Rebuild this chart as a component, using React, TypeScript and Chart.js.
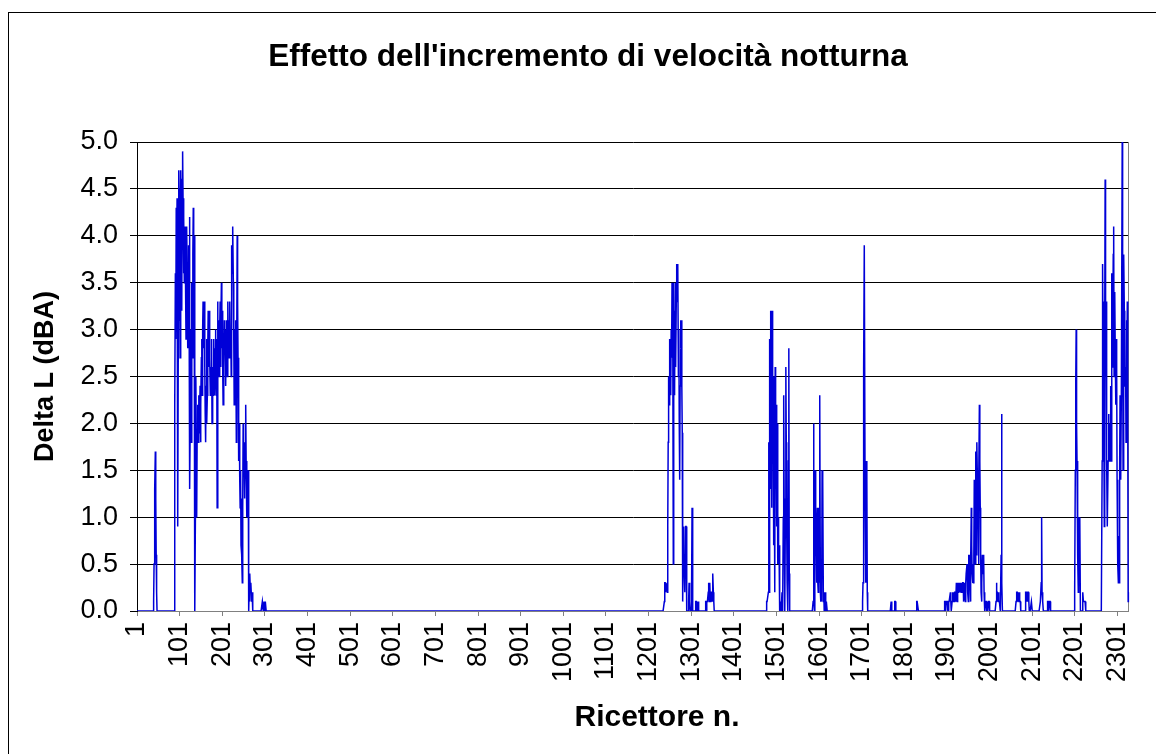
import React, { useEffect, useRef } from "react";
import { Chart, registerables } from "chart.js";

Chart.register(...registerables);

// ---------- DATA ----------
const RECEPTOR_COUNT = 2327;
const receptorLabels: string[] = Array.from({ length: RECEPTOR_COUNT }, (_, i) => String(i + 1));
const xLabelEvery = 100;

// Non-zero runs of Delta L (dBA); every receptor not listed is 0.0
const run40Start = 40;
const run40 = [0.1, 0.5, 0.9, 1.3, 1.7, 1.2, 0.6, 0.2];

const run89Start = 89;
const run89 = [
  1.0, 2.2, 3.6, 2.9, 4.3, 3.8, 4.4, 1.9, 0.9, 3.1,
  4.7, 4.4, 4.5, 2.7, 3.9, 4.7, 4.0, 3.2, 4.6, 4.9,
  4.4, 3.6, 4.2, 3.5, 3.9, 4.1, 3.4, 2.9, 3.7, 4.1,
  3.5, 2.8, 3.3, 3.9, 3.6, 4.2, 1.3, 2.1, 3.0, 1.8,
  2.7, 3.5, 2.7, 3.8, 4.3, 3.1, 4.0, 2.4, 0.0, 1.0,
  2.5, 1.9, 1.0, 1.8, 2.2, 2.0, 1.8, 2.3, 1.9, 2.1,
  2.4, 1.8, 2.2, 2.7, 2.9, 2.3, 3.0, 3.3, 2.8, 3.0,
  3.3, 2.6, 2.1, 1.8, 2.4, 2.9, 2.0, 2.3, 2.8, 3.2,
  2.6, 2.9, 3.2, 2.7, 2.3, 2.6, 2.4, 2.9, 2.0, 2.3,
  2.6, 2.3, 2.9, 2.5, 2.3, 2.8, 3.0, 2.6, 2.3, 2.9,
  1.1, 3.3, 2.7, 3.1, 2.9, 2.5, 3.0, 3.3, 2.6, 3.0,
  3.5, 2.8, 3.2, 2.6, 2.2, 2.9, 2.6, 3.1, 2.8, 3.0,
  2.4, 2.8, 3.1, 2.9, 2.5, 3.3, 2.9, 3.1, 2.7, 3.0,
  3.3, 2.8, 3.0, 2.5, 3.9, 3.6, 3.8, 4.1, 3.5, 2.9,
  2.2, 2.7, 3.0, 2.4, 3.1, 1.8, 2.9, 4.0, 3.3, 2.7,
  2.2, 1.6, 2.0, 1.4, 1.1, 1.5, 0.7, 1.2, 0.6, 0.3,
  1.1, 2.0, 1.5, 1.8, 1.2, 1.3, 1.7, 2.2, 1.6, 1.0,
  1.4, 1.2, 1.0, 1.5, 0.0, 0.2, 0.1, 0.4, 0.2, 0.3,
  0.2, 0.1, 0.2, 0.1, 0.0,
];

const run295Start = 295;
const run295 = [0.1, 0.1, 0.0, 0.0, 0.1, 0.1, 0.0, 0.1, 0.1];

const run1237Start = 1237;
const run1237 = [
  0.0, 0.1, 0.3, 0.3, 0.2, 0.3, 0.3, 0.3, 0.2, 0.9,
  1.8, 2.5, 2.2, 2.9, 2.4, 2.8, 2.3, 3.0, 2.7, 3.5,
  3.4, 3.5, 0.5, 3.5, 3.0, 2.3, 3.2, 3.5, 2.6, 3.3,
  3.7, 3.4, 3.7, 3.7, 2.5, 3.0, 2.0, 1.4, 2.4, 3.1,
  2.8, 3.1, 2.4, 1.9, 0.1, 0.5, 0.9, 0.9, 0.4, 0.2,
  0.6, 0.9, 0.9, 0.3, 0.0, 0.0, 0.0, 0.0, 0.1, 0.3,
  0.3, 0.1, 0.0, 0.0, 0.0, 0.3, 1.1, 0.2, 0.0, 0.0,
];

const run1312Start = 1312;
const run1312 = [0.1, 0.1, 0.0, 0.1, 0.1, 0.0, 0.1, 0.0];

const run1335Start = 1335;
const run1335 = [0.1, 0.1, 0.0, 0.1, 0.1, 0.1, 0.2, 0.3, 0.1, 0.2, 0.3, 0.1, 0.2, 0.2, 0.1, 0.2, 0.1, 0.4, 0.2, 0.1, 0.0];

const run1478Start = 1478;
const run1478 = [
  0.1, 0.1, 0.1, 0.1, 0.2, 1.8, 0.2, 2.9, 2.2, 3.2,
  1.3, 2.7, 1.1, 3.2, 2.1, 2.5, 0.7, 2.2, 1.5, 0.2,
  2.6, 1.3, 2.2, 1.8, 0.9, 2.0, 0.5, 1.0, 0.5, 0.7,
  0.3, 0.0, 0.1, 0.0, 0.0, 0.1, 0.2, 0.2, 0.0, 1.0,
  2.3, 1.2, 0.0, 0.0, 1.1, 2.6, 1.8, 0.9, 0.3, 0.0,
  0.2, 1.6, 2.8, 0.4, 0.0,
];

const run1587Start = 1587;
const run1587 = [
  0.1, 2.0, 0.3, 0.0, 0.2, 1.5, 0.6, 1.0, 0.3, 0.9,
  1.1, 0.3, 0.2, 1.0, 1.1, 0.3, 2.3, 0.2, 0.1, 0.2,
  0.1, 1.5, 0.4, 1.4, 0.1, 0.2, 0.0, 0.1, 0.2, 0.1,
  0.0, 0.1, 0.1, 0.0,
];

const run1703Start = 1703;
const run1703 = [0.1, 0.3, 1.2, 2.6, 3.9, 3.9, 1.1, 1.6, 0.3, 1.6, 1.4, 0.2, 0.0];

const run1770Start = 1770;
const run1770 = [0.1, 0.1];
const run1778Start = 1778;
const run1778 = [0.1, 0.1, 0.1];
const run1830Start = 1830;
const run1830 = [0.1, 0.1, 0.1, 0.1];

const run1895Start = 1895;
const run1895 = [
  0.1, 0.1, 0.1, 0.0, 0.1, 0.1, 0.1, 0.1, 0.0, 0.0,
  0.1, 0.1, 0.1, 0.1, 0.2, 0.1, 0.0, 0.0, 0.1, 0.2,
  0.1, 0.1, 0.2, 0.1, 0.2, 0.2, 0.2, 0.1, 0.3, 0.2,
  0.1, 0.3, 0.2, 0.3, 0.2, 0.3, 0.2, 0.3, 0.3, 0.2,
  0.3, 0.2, 0.2, 0.3, 0.3, 0.1, 0.3, 0.3, 0.2, 0.1,
  0.3, 0.4, 0.4, 0.5, 0.3, 0.2, 0.1, 0.6, 0.4, 0.6,
  0.3, 0.1, 0.5, 1.1, 0.7, 0.4, 0.3, 0.5, 0.3, 0.6,
  1.4, 0.9, 0.5, 1.7, 1.2, 0.6, 1.8, 1.5, 0.9, 1.1,
  0.5, 1.4, 2.2, 1.6, 1.1, 0.6, 0.2, 0.1, 0.3, 0.6,
  0.6, 0.4, 0.6, 0.2, 0.0, 0.0, 0.1, 0.1, 0.1, 0.0,
  0.1, 0.0, 0.0, 0.1, 0.1, 0.1,
];

const run2016Start = 2016;
const run2016 = [0.1, 0.3, 0.2, 0.2, 0.1, 0.2, 0.1, 0.1, 0.1, 0.1, 0.0, 0.0, 0.6, 2.1, 0.3, 0.0];
const run2063Start = 2063;
const run2063 = [0.1, 0.2, 0.2, 0.2, 0.1, 0.2, 0.2, 0.1, 0.2, 0.1, 0.1, 0.0];
const run2085Start = 2085;
const run2085 = [0.1, 0.2, 0.2, 0.1, 0.2, 0.1, 0.2, 0.2, 0.1, 0.0];
const run2099Start = 2099;
const run2099 = [0.1, 0.1];
const run2120Start = 2120;
const run2120 = [0.1, 0.1, 0.3, 1.0, 0.2, 0.1, 0.1];
const run2137Start = 2137;
const run2137 = [0.1, 0.1, 0.1, 0.0, 0.1, 0.1, 0.1];

const run2201Start = 2201;
const run2201 = [
  0.2, 1.5, 2.4, 3.0, 2.0, 1.6, 1.2, 0.6, 0.2, 1.0,
  0.5, 1.0, 1.0, 0.0, 0.0, 0.0, 0.0, 0.0, 0.0, 0.2,
  0.1, 0.1, 0.1, 0.1, 0.1,
];

const run2265Start = 2265;
const run2265 = [
  1.6, 3.7, 2.9, 3.3, 2.3, 0.9, 3.0, 4.6, 2.5, 3.3,
  2.0, 1.6, 0.9, 0.9, 1.6, 2.1, 1.7, 2.0, 1.8, 1.6,
  2.4, 1.6, 2.6, 3.6, 2.6, 3.1, 3.8, 4.1, 2.5, 3.0,
  3.4, 2.6, 2.2, 2.9, 2.6, 1.4, 0.6, 0.5, 0.3, 0.8,
  0.3, 1.5, 2.3, 1.8, 1.4, 2.3, 2.3, 5.0, 3.2, 1.5,
  1.5, 3.8, 3.2, 3.1, 2.4, 2.6, 1.8, 3.1, 2.4, 3.3,
  2.1, 0.1, 0.2,
];

const runs: [number, number[]][] = [
  [run40Start, run40],
  [run89Start, run89],
  [run295Start, run295],
  [run1237Start, run1237],
  [run1312Start, run1312],
  [run1335Start, run1335],
  [run1478Start, run1478],
  [run1587Start, run1587],
  [run1703Start, run1703],
  [run1770Start, run1770],
  [run1778Start, run1778],
  [run1830Start, run1830],
  [run1895Start, run1895],
  [run2016Start, run2016],
  [run2063Start, run2063],
  [run2085Start, run2085],
  [run2099Start, run2099],
  [run2120Start, run2120],
  [run2137Start, run2137],
  [run2201Start, run2201],
  [run2265Start, run2265],
];

const deltaL: number[] = new Array(RECEPTOR_COUNT).fill(0);
for (const [start, vals] of runs) {
  vals.forEach((v, j) => {
    const idx = start - 1 + j;
    if (idx < RECEPTOR_COUNT) deltaL[idx] = v;
  });
}

const chartTitle = "Effetto dell'incremento di velocità notturna";
const xTitle = "Ricettore n.";
const yTitle = "Delta L (dBA)";

// ---------- STYLE ----------
const FONT = "'Liberation Sans', Arial, Helvetica, sans-serif";

const plotBorder = {
  id: "plotBorder",
  beforeDatasetsDraw(chart: any) {
    const { ctx, chartArea } = chart;
    ctx.save();
    ctx.strokeStyle = "#808080";
    ctx.lineWidth = 1;
    ctx.beginPath();
    const x = Math.round(chartArea.right) - 0.5;
    ctx.moveTo(x, chartArea.top);
    ctx.lineTo(x, chartArea.bottom);
    ctx.stroke();
    ctx.restore();
  },
};

// Category-axis title, placed like the original (slightly right of the plot centre)
const xAxisTitle = {
  id: "xAxisTitle",
  afterDraw(chart: any) {
    const { ctx } = chart;
    ctx.save();
    ctx.fillStyle = "#000";
    ctx.font = `bold 30px ${FONT}`;
    ctx.textAlign = "center";
    ctx.textBaseline = "middle";
    ctx.fillText(xTitle, 657, 718);
    ctx.restore();
  },
};

export default function App() {
  const ref = useRef<HTMLCanvasElement>(null);

  useEffect(() => {
    if (!ref.current) return;
    const chart = new Chart(ref.current, {
      type: "line",
      data: {
        labels: receptorLabels,
        datasets: [
          {
            data: deltaL,
            borderColor: "#0000d8",
            borderWidth: 1.5,
            pointRadius: 0,
            pointHoverRadius: 0,
            tension: 0,
            fill: false,
          },
        ],
      },
      options: {
        animation: false,
        responsive: false,
        events: [],
        layout: { padding: { left: 28, right: 8, top: 0, bottom: 0 } },
        plugins: {
          legend: { display: false },
          tooltip: { enabled: false },
          title: {
            display: true,
            text: chartTitle,
            color: "#000",
            font: { family: FONT, size: 31.5, weight: "bold" },
            padding: { top: 38.6, bottom: 65.6 },
          },
        },
        scales: {
          x: {
            type: "category",
            afterBuildTicks: (s: any) => {
              s.ticks = s.ticks.filter((t: any) => t.value % xLabelEvery === 0);
            },
            afterFit: (s: any) => {
              s.height = 143;
            },
            ticks: {
              autoSkip: false,
              minRotation: 90,
              maxRotation: 90,
              padding: 6,
              color: "#000",
              font: { family: FONT, size: 27 },
            },
            grid: { drawOnChartArea: false, color: "#808080", tickLength: 5, lineWidth: 1 },
            border: { color: "#808080", width: 1 },
            title: { display: false },
          },
          y: {
            min: 0,
            max: 5,
            afterFit: (s: any) => {
              s.width = 109;
            },
            ticks: {
              stepSize: 0.5,
              padding: 12,
              color: "#000",
              font: { family: FONT, size: 27 },
              callback: (v: any) => Number(v).toFixed(1),
            },
            grid: { color: "#000", tickLength: 7, lineWidth: 1 },
            border: { color: "#000", width: 1 },
            title: {
              display: true,
              text: yTitle,
              color: "#000",
              font: { family: FONT, size: 27, weight: "bold" },
              padding: { top: 1.8, bottom: 0 },
            },
          },
        },
      },
      plugins: [plotBorder, xAxisTitle],
    } as any);
    return () => chart.destroy();
  }, []);

  return (
    <div
      style={{
        position: "absolute",
        left: 0,
        top: 0,
        width: 1156,
        height: 754,
        overflow: "hidden",
        background: "#fff",
      }}
    >
      <div
        style={{
          position: "absolute",
          left: 8,
          top: 12,
          width: 1200,
          height: 800,
          border: "1px solid #000",
          boxSizing: "border-box",
        }}
      />
      <canvas
        ref={ref}
        width={1156}
        height={754}
        style={{ position: "absolute", left: 0, top: 0, display: "block" }}
      />
    </div>
  );
}
